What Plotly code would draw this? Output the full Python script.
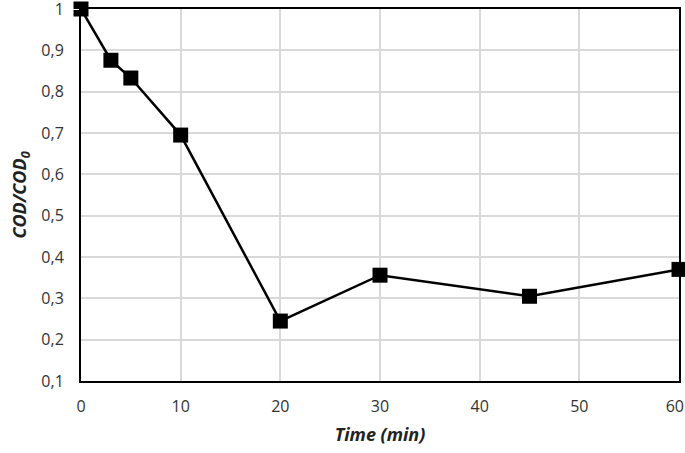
import plotly.graph_objects as go

time_min = [0, 3, 5, 10, 20, 30, 45, 60]
cod_ratio = [1.0, 0.876, 0.833, 0.695, 0.245, 0.356, 0.305, 0.370]

x_ticks = [0, 10, 20, 30, 40, 50, 60]
x_labels = ["0", "10", "20", "30", "40", "50", "60&nbsp;&nbsp;"]
y_ticks = [0.1, 0.2, 0.3, 0.4, 0.5, 0.6, 0.7, 0.8, 0.9, 1.0]
y_labels = ["0,1", "0,2", "0,3", "0,4", "0,5", "0,6", "0,7", "0,8", "0,9", "1"]

fig = go.Figure()
fig.add_trace(go.Scatter(
    x=time_min, y=cod_ratio,
    mode="lines+markers",
    line=dict(color="black", width=2.5),
    marker=dict(symbol="square", size=15, color="black"),
    cliponaxis=False,
    showlegend=False,
    hoverinfo="skip",
))

fig.update_layout(
    width=685, height=453,
    margin=dict(l=81, r=6, t=9, b=72),
    paper_bgcolor="white",
    plot_bgcolor="white",
    font=dict(family="Open Sans", size=16, color="#333"),
    xaxis=dict(
        range=[0, 60], tickvals=x_ticks, ticktext=x_labels,
        showgrid=True, gridcolor="#d9d9d9", gridwidth=1.5,
        showline=True, linecolor="black", linewidth=2, mirror=True,
        zeroline=False, ticks="outside", ticklen=10, tickcolor="white",
        ticklabeloverflow="allow", automargin=False,
        title=dict(text="<b><i>Time (min)</i></b>", font=dict(size=18, color="#222"), standoff=12),
    ),
    yaxis=dict(
        range=[0.1, 1.0], tickvals=y_ticks, ticktext=y_labels,
        showgrid=True, gridcolor="#d9d9d9", gridwidth=1.5,
        showline=True, linecolor="black", linewidth=2, mirror=True,
        zeroline=False, ticks="outside", ticklen=12, tickcolor="white",
        ticklabeloverflow="allow", automargin=False,
        title=dict(text="<b><i>COD/COD<sub>0</sub></i></b>", font=dict(size=18, color="#222"), standoff=10),
    ),
)

# page default margin would shift the figure by 8px
fig.write_html("out.html", config={"displayModeBar": False},
               post_script="document.body.style.margin='0px';")
